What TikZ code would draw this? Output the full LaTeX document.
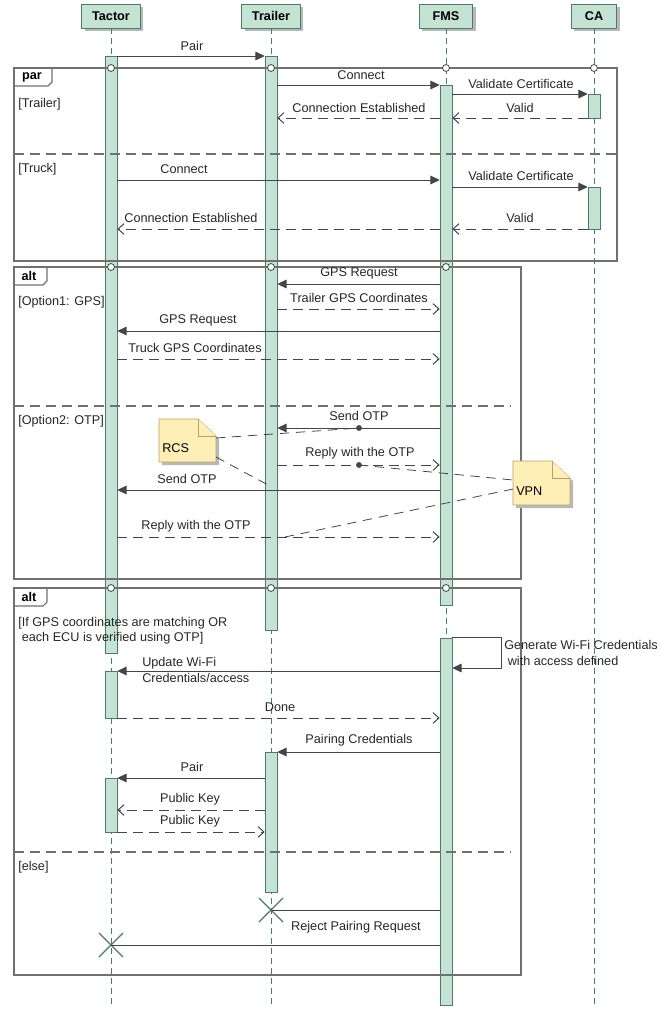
\documentclass[tikz,border=0pt]{standalone}
\usepackage{fontspec}
\setmainfont{Liberation Sans}
\usetikzlibrary{arrows.meta,fit,positioning,shadows,shapes.misc}
\definecolor{barfill}{HTML}{C5E3D3}
\definecolor{barline}{HTML}{4A7A68}
\definecolor{notefill}{HTML}{FDEFB5}
\definecolor{noteline}{HTML}{B9A15E}
\definecolor{msgline}{HTML}{454545}
\definecolor{frameline}{HTML}{707070}

\begin{document}
\begin{tikzpicture}[x=0.75pt, y=-0.75pt, font=\fontsize{9.5}{11.5}\selectfont]
    \tikzstyle{head} = [rectangle, draw=barline, fill=barfill, minimum height=18pt, inner xsep=0pt, font=\fontsize{9.5}{11.5}\selectfont\bfseries, drop shadow={shadow xshift=2.2pt, shadow yshift=-2.2pt, fill=black!28, opacity=1}]
    \tikzstyle{life} = [barline, dash pattern=on 4.5pt off 3pt]
    \tikzstyle{bar} = [rectangle, draw=barline, fill=barfill, inner sep=0pt]
    \tikzstyle{frm} = [frameline, line width=0.8pt]
    \tikzstyle{sep} = [frameline, line width=0.8pt, dash pattern=on 7.5pt off 4.5pt]
    \tikzstyle{gate} = [draw=msgline, fill=white, line width=0.6pt]
    \tikzstyle{msg} = [msgline, line width=0.75pt, -{Triangle[length=7pt, width=6.5pt]}]
    \tikzstyle{ret} = [msgline, line width=0.75pt, dash pattern=on 7.5pt off 4.5pt, -{Straight Barb[length=4.5pt, width=8pt]}]
    \tikzstyle{kill} = [msgline, line width=0.75pt]
    \tikzstyle{lbl} = [inner sep=1pt, text=black!85]
    \tikzstyle{cond} = [inner sep=0pt, anchor=west, text=black!85]
    \tikzstyle{tab} = [inner sep=0pt, font=\fontsize{9.5}{11.5}\selectfont\bfseries]
    \tikzstyle{note} = [draw=noteline, fill=notefill, line width=0.6pt]
    \tikzstyle{lnk} = [msgline, line width=0.6pt, dash pattern=on 7pt off 5pt]
    \tikzstyle{cross} = [cross out, draw=barline, line width=1pt, minimum size=17pt, inner sep=0pt]

    \useasboundingbox (0,0) rectangle (660,1010);

    \coordinate (bot) at (0,1005);
    \coordinate (fa) at (0,68);
    \coordinate (fb) at (0,267);
    \coordinate (fc) at (0,588);
    \coordinate (p1) at (0,56);
    \coordinate (p2) at (0,85);
    \coordinate (p3) at (0,94);
    \coordinate (p4) at (0,118);
    \coordinate (p5) at (0,180);
    \coordinate (p6) at (0,187);
    \coordinate (p7) at (0,229);
    \coordinate (g1) at (0,284);
    \coordinate (g2) at (0,309);
    \coordinate (g3) at (0,331);
    \coordinate (g4) at (0,359);
    \coordinate (o1) at (0,428);
    \coordinate (o2) at (0,465);
    \coordinate (o3) at (0,490);
    \coordinate (o4) at (0,537);
    \coordinate (u1) at (0,671);
    \coordinate (u2) at (0,718);
    \coordinate (k1) at (0,752);
    \coordinate (k2) at (0,778);
    \coordinate (k3) at (0,810);
    \coordinate (k4) at (0,832);

    \node [head, minimum width=44pt] (ta) at (111,16) {Tactor};
    \node [head, minimum width=44pt] (tr) at (271,16) {Trailer};
    \node [head, minimum width=40pt] (fm) at (446,16) {FMS};
    \node [head, minimum width=34pt] (ca) at (594,16) {CA};

    \draw [life] (ta) -- (ta |- bot);
    \draw [life] (tr) -- (tr |- bot);
    \draw [life] (fm) -- (fm |- bot);
    \draw [life] (ca) -- (ca |- bot);

    \node [bar, fit={(105,56) (117,653)}] (a1) {};
    \node [bar, fit={(105,671) (117,718)}] (a2) {};
    \node [bar, fit={(105,778) (117,832)}] (a3) {};
    \node [bar, fit={(265,56) (277,630)}] (b1) {};
    \node [bar, fit={(265,752) (277,892)}] (b2) {};
    \node [bar, fit={(440,85) (452,605)}] (f1) {};
    \node [bar, fit={(440,638) (452,1005)}] (f2) {};
    \node [bar, fit={(588,94) (600,118)}] (c1) {};
    \node [bar, fit={(588,187) (600,229)}] (c2) {};

    \draw [frm] (14,68) rectangle (617,261);
    \draw [frm] (14,86) -- (48,86) -- (52,82) -- (52,68);
    \node [tab] (tpar) at (32,77) {par};
    \draw [sep] (14,154) -- (617,154);
    \node [cond] (ctr) at (18,104) {[Trailer]};
    \node [cond] (ctk) at (18,169) {[Truck]};

    \draw [frm] (14,267) rectangle (521,579);
    \draw [frm] (14,285) -- (43,285) -- (47,281) -- (47,267);
    \node [tab] (talt) at (29,276) {alt};
    \draw [sep] (14,406) -- (511,406);
    \node [cond] (cgps) at (18,302) {[Option1: GPS]};
    \node [cond] (cotp) at (18,421) {[Option2: OTP]};

    \draw [frm] (14,588) rectangle (521,975);
    \draw [frm] (14,606) -- (43,606) -- (47,602) -- (47,588);
    \node [tab] (talt2) at (29,597) {alt};
    \draw [sep] (14,852) -- (511,852);
    \node [cond, align=left] (cif) at (18,631) {[If GPS coordinates are matching OR\\\ each ECU is verified using OTP]};
    \node [cond] (cel) at (18,867) {[else]};

    \draw [gate] (ta |- fa) circle[radius=2.6pt];
    \draw [gate] (tr |- fa) circle[radius=2.6pt];
    \draw [gate] (fm |- fa) circle[radius=2.6pt];
    \draw [gate] (ca |- fa) circle[radius=2.6pt];
    \draw [gate] (ta |- fb) circle[radius=2.6pt];
    \draw [gate] (tr |- fb) circle[radius=2.6pt];
    \draw [gate] (fm |- fb) circle[radius=2.6pt];
    \draw [gate] (ta |- fc) circle[radius=2.6pt];
    \draw [gate] (tr |- fc) circle[radius=2.6pt];
    \draw [gate] (fm |- fc) circle[radius=2.6pt];

    \draw [msg] (a1.east |- p1) -- (b1.west |- p1);
    \node [lbl] (m1) at (192,46) {Pair};
    \draw [msg] (b1.east |- p2) -- (f1.west |- p2);
    \node [lbl] (m2) at (361,75) {Connect};
    \draw [msg] (f1.east |- p3) -- (c1.west |- p3);
    \node [lbl] (m3) at (521,84) {Validate Certificate};
    \draw [ret] (c1.west |- p4) -- (f1.east |- p4);
    \node [lbl] (m4) at (520,108) {Valid};
    \draw [ret] (f1.west |- p4) -- (b1.east |- p4);
    \node [lbl] (m5) at (359,108) {Connection Established};
    \draw [msg] (a1.east |- p5) -- (f1.west |- p5);
    \node [lbl] (m6) at (184,169) {Connect};
    \draw [msg] (f1.east |- p6) -- (c2.west |- p6);
    \node [lbl] (m7) at (521,176) {Validate Certificate};
    \draw [ret] (c2.west |- p7) -- (f1.east |- p7);
    \node [lbl] (m8) at (520,218) {Valid};
    \draw [ret] (f1.west |- p7) -- (a1.east |- p7);
    \node [lbl] (m9) at (191,218) {Connection Established};

    \draw [msg] (f1.west |- g1) -- (b1.east |- g1);
    \node [lbl] (n1) at (359,273) {GPS Request};
    \draw [ret] (b1.east |- g2) -- (f1.west |- g2);
    \node [lbl] (n2) at (359,298) {Trailer GPS Coordinates};
    \draw [msg] (f1.west |- g3) -- (a1.east |- g3);
    \node [lbl] (n3) at (198,320) {GPS Request};
    \draw [ret] (a1.east |- g4) -- (f1.west |- g4);
    \node [lbl] (n4) at (195,348) {Truck GPS Coordinates};

    \draw [msg] (f1.west |- o1) -- (b1.east |- o1);
    \node [lbl] (q1) at (359,416) {Send OTP};
    \draw [ret] (b1.east |- o2) -- (f1.west |- o2);
    \node [lbl] (q2) at (360,453) {Reply with the OTP};
    \draw [msg] (f1.west |- o3) -- (a1.east |- o3);
    \node [lbl] (q3) at (187,479) {Send OTP};
    \draw [ret] (a1.east |- o4) -- (f1.west |- o4);
    \node [lbl] (q4) at (196,526) {Reply with the OTP};

    \coordinate (d1) at (359,428);
    \coordinate (d2) at (359,465);
    \coordinate (e1) at (270,486);
    \coordinate (e2) at (285,537);
    \fill [msgline] (d1) circle[radius=2.2pt];
    \fill [msgline] (d2) circle[radius=2.2pt];

    \fill [black!28] (162,422) -- (201,422) -- (219,439) -- (219,465) -- (162,465) -- cycle;
    \draw [note] (159,419) -- (198,419) -- (216,436) -- (216,462) -- (159,462) -- cycle;
    \draw [note] (198,419) -- (198,436) -- (216,436);
    \node [inner sep=0pt, anchor=west] (rcs) at (162,448) {RCS};
    \fill [black!28] (516,464) -- (555,464) -- (573,481) -- (573,508) -- (516,508) -- cycle;
    \draw [note] (513,461) -- (552,461) -- (570,478) -- (570,505) -- (513,505) -- cycle;
    \draw [note] (552,461) -- (552,478) -- (570,478);
    \node [inner sep=0pt, anchor=west] (vpn) at (516,491) {VPN};
    \coordinate (rn1) at (216,438);
    \coordinate (rn2) at (216,457);
    \coordinate (vn1) at (513,480);
    \coordinate (vn2) at (513,489);
    \draw [lnk] (rn1) -- (d1);
    \draw [lnk] (rn2) -- (e1);
    \draw [lnk] (d2) -- (vn1);
    \draw [lnk] (vn2) -- (e2);

    \coordinate (sl) at (501,668);
    \draw [msg] (f2.north east) -| (sl) -- (f2.east |- sl);
    \node [cond, align=left] (gen) at (504,653) {Generate Wi-Fi Credentials\\\ with access defined};
    \draw [msg] (f2.west |- u1) -- (a2.east |- u1);
    \node [cond, align=left] (upd) at (142,670) {Update Wi-Fi\\Credentials/access};
    \draw [ret] (a2.east |- u2) -- (f2.west |- u2);
    \node [lbl] (dn) at (280,707) {Done};

    \draw [msg] (f2.west |- k1) -- (b2.east |- k1);
    \node [lbl] (pc) at (359,740) {Pairing Credentials};
    \draw [msg] (b2.west |- k2) -- (a3.east |- k2);
    \node [lbl] (pr) at (192,767) {Pair};
    \draw [ret] (b2.west |- k3) -- (a3.east |- k3);
    \node [lbl] (pk1) at (190,799) {Public Key};
    \draw [ret] (a3.east |- k4) -- (b2.west |- k4);
    \node [lbl] (pk2) at (190,821) {Public Key};

    \node [cross] (xt) at (271,910) {};
    \node [cross] (xa) at (111,945) {};
    \draw [kill] (f2.west |- xt) -- (xt.center);
    \draw [kill] (f2.west |- xa) -- (xa.center);
    \node [lbl] (rj) at (356,927) {Reject Pairing Request};
\end{tikzpicture}
\end{document}
